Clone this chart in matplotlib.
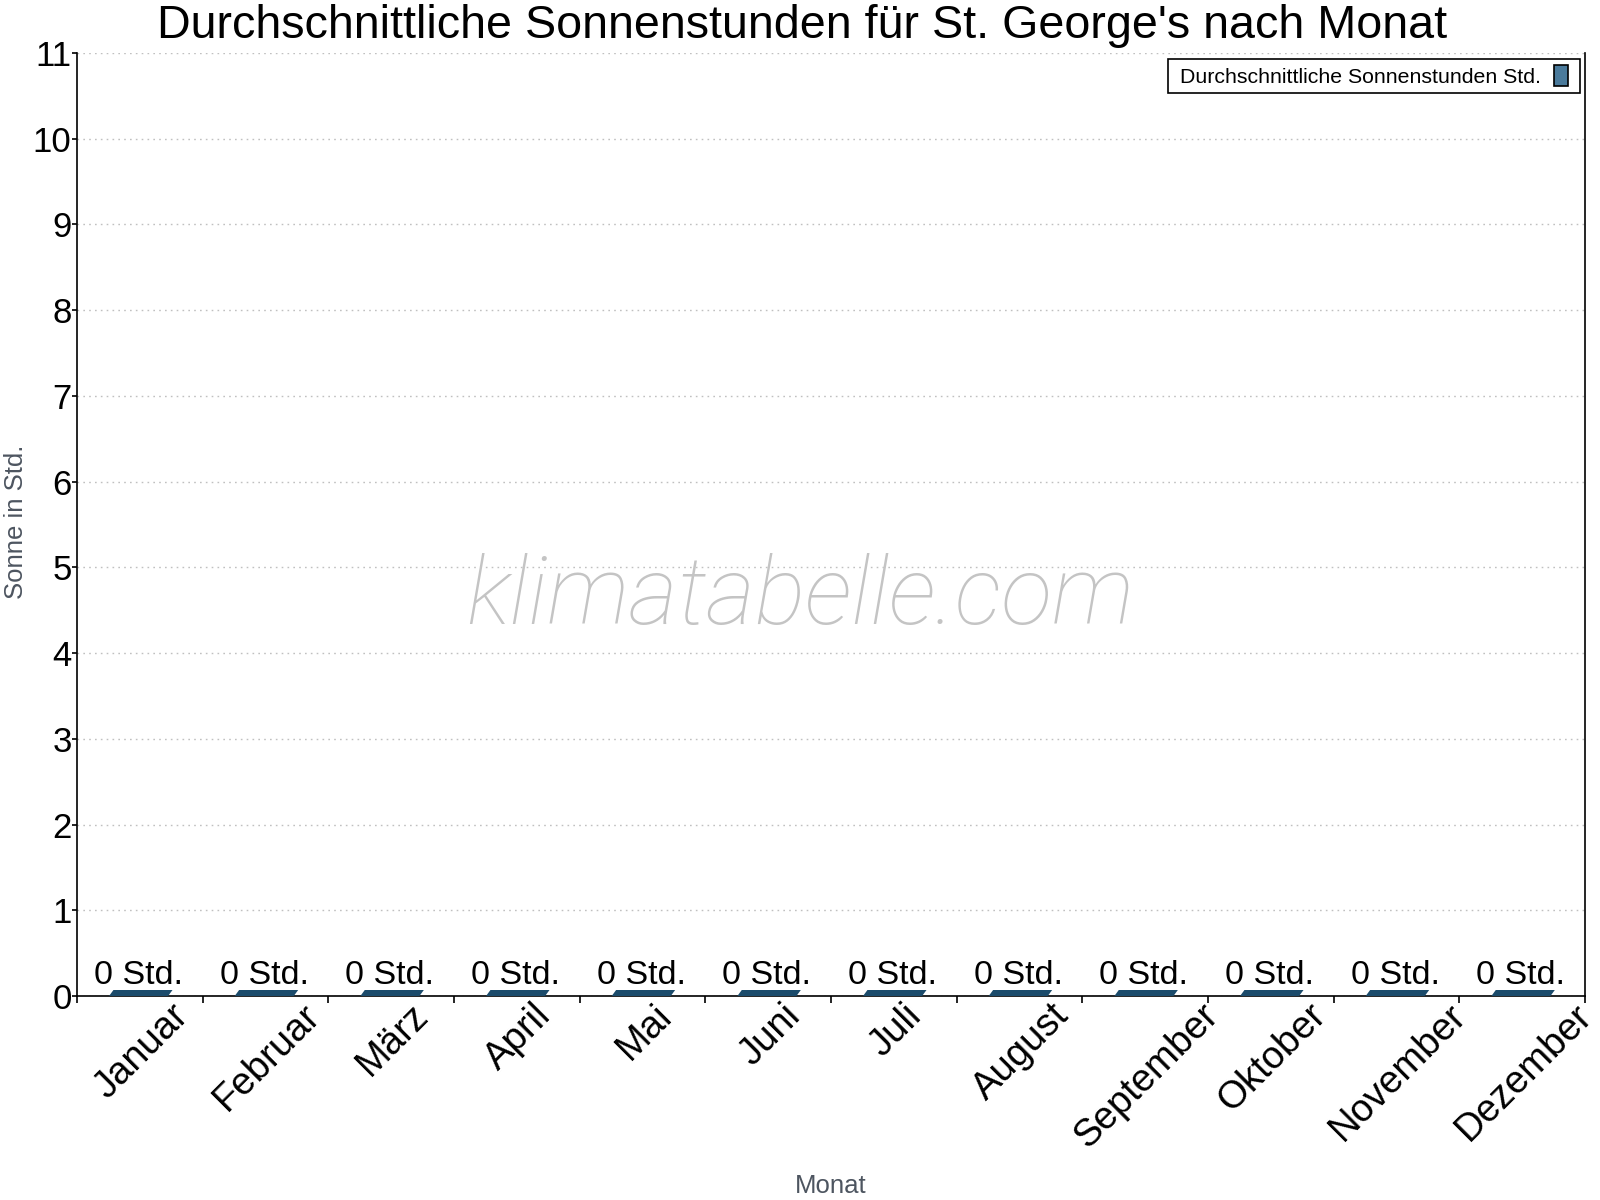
import numpy as np
import matplotlib
matplotlib.use("Agg")
import matplotlib.pyplot as plt
from matplotlib.patches import Polygon, Patch, Rectangle
from matplotlib.transforms import IdentityTransform

plt.rcParams['font.family'] = ['Liberation Sans', 'DejaVu Sans']

months = ['Januar', 'Februar', 'März', 'April', 'Mai', 'Juni', 'Juli',
          'August', 'September', 'Oktober', 'November', 'Dezember']
sun_hours = [0, 0, 0, 0, 0, 0, 0, 0, 0, 0, 0, 0]
y_ticks = list(range(0, 12))

title = "Durchschnittliche Sonnenstunden für St. George's nach Monat"
series_name = 'Durchschnittliche Sonnenstunden Std.'
bar_color = '#1b4b6b'
legend_color = '#4a7a9b'

fig = plt.figure(figsize=(16, 12), dpi=100)
ax = fig.add_axes([77/1600, 1 - 996/1200, 1508/1600, 943/1200])

x = np.arange(len(months))
ax.set_xlim(-0.5, len(months) - 0.5)
ax.set_ylim(0, 11)

# flat 3d-ish top faces of the (zero) bars
w = 0.47
dx = 0.035
dy = 11 * 6 / 943
ax.bar(x - 0.01, sun_hours, width=w, color=bar_color, linewidth=0)
for xi, v in zip(x, sun_hours):
    l = xi - 0.01 - w / 2
    poly = Polygon([(l, v), (l + w, v), (l + w + dx, v + dy), (l + dx, v + dy)],
                   closed=True, facecolor=bar_color, edgecolor='none', zorder=3)
    ax.add_patch(poly)
    ax.annotate(f'{v} Std.', (xi - 0.01, v), xytext=(0, 8.5), textcoords='offset points',
                ha='center', va='baseline', fontsize=24.5, color='black', zorder=4)

# grid
ax.set_yticks(y_ticks)
ax.yaxis.grid(True, linestyle=(0, (1.2, 3)), color='#c0c0c0', linewidth=1)
ax.set_axisbelow(True)

ax.spines['top'].set_visible(False)
for s in ['left', 'right', 'bottom']:
    ax.spines[s].set_color('black')
    ax.spines[s].set_linewidth(1.2)

ax.tick_params(axis='y', labelsize=25, length=3.6, width=1.2, pad=0.3, colors='black')

# month labels at centers, tick marks at boundaries
ax.set_xticks(x + 0.015)
ax.set_xticklabels(months, fontsize=27.5, rotation=45, ha='center', va='top')
ax.set_xticks(np.arange(-0.5, len(months), 1), minor=True)
ax.tick_params(axis='x', which='major', length=0, pad=1)
ax.tick_params(axis='x', which='minor', length=5, width=1.2)

fig.text(831/1600, 1 - 1193/1200, 'Monat', ha='center', va='baseline',
         fontsize=18.5, color='#4d5560')
fig.text(16/1600, 1 - 522/1200, 'Sonne in Std.', ha='center', va='center',
         rotation=90, fontsize=18.5, color='#4d5560')

fig.text(802/1600, 1 - 38/1200, title, ha='center', va='baseline', fontsize=33.6)

fig.text(800/1600, 1 - 598/1200, 'klimatabelle.com', ha='center', va='center',
         fontsize=68, color='#c4c4c4', family='Roboto', style='italic',
         weight='light', zorder=0)

handle = Patch(facecolor=legend_color, edgecolor='black', linewidth=1.2)
leg = fig.legend([handle], [series_name], loc='upper right',
                 bbox_to_anchor=((1580 - 6)/1600, 1 - 59/1200), markerfirst=False,
                 fontsize=15.3, handlelength=0.65, handleheight=1.15, handletextpad=0.6,
                 borderpad=0.3, borderaxespad=0, frameon=False)
leg.set_zorder(5)
fig.canvas.draw()
bb = leg.get_window_extent()
fig.patches.append(Rectangle((bb.x0 - 6, bb.y0), bb.width + 12, bb.height,
                             transform=IdentityTransform(), facecolor='white',
                             edgecolor='black', linewidth=1.2, zorder=4, figure=fig))

fig.savefig('out.png', dpi=100)
